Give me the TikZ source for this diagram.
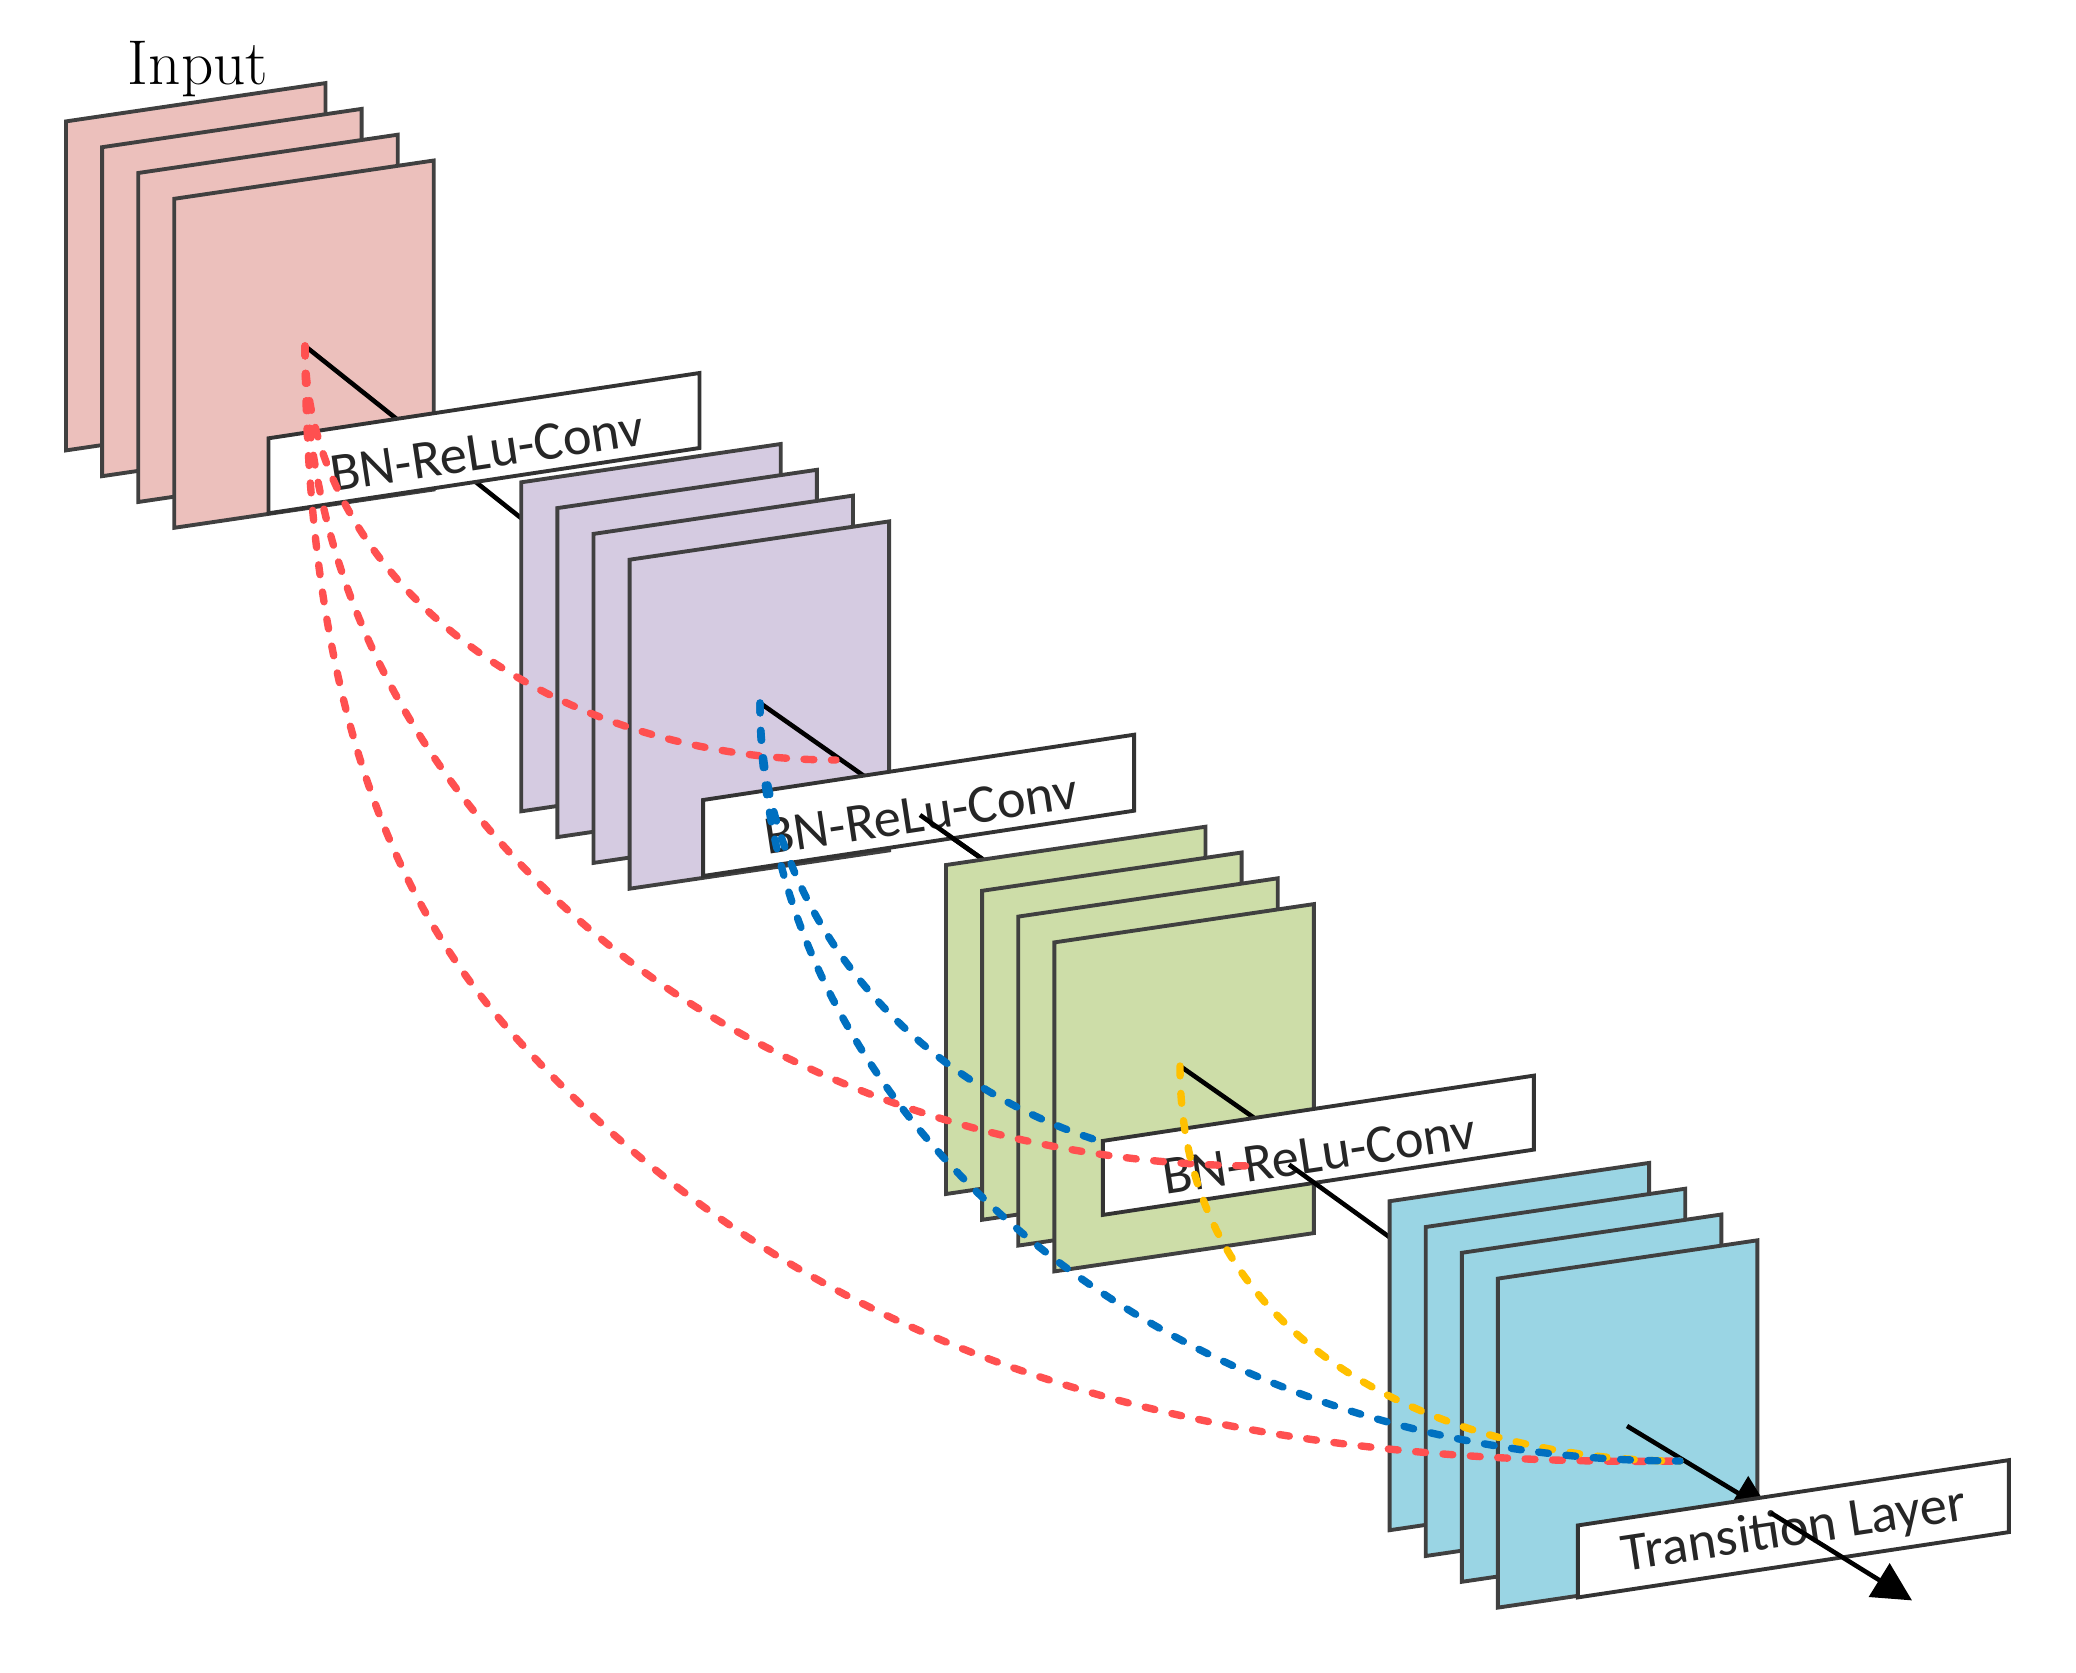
\documentclass[tikz,border=0pt]{standalone}
\usepackage{fontspec}
\usepackage{tikz}
\usetikzlibrary{arrows.meta}
\newfontfamily\boxfont{Carlito}
\definecolor{inputpink}{RGB}{236,192,188}
\definecolor{layerpurple}{RGB}{213,203,225}
\definecolor{layergreen}{RGB}{205,221,168}
\definecolor{layerblue}{RGB}{154,213,228}
\definecolor{skipred}{RGB}{255,80,80}
\definecolor{skipblue}{RGB}{0,112,192}
\definecolor{skipyellow}{RGB}{255,192,0}

\tikzset{
  sheet/.style={draw=black!75, line width=1.1pt},
  convbox/.style={draw=black!80, fill=white, line width=1.1pt},
  boxtext/.style={font=\boxfont\fontsize{15.5}{18}\selectfont, text=black!85, rotate=8.6, inner sep=0pt},
  link/.style={black, line width=1.3pt},
  skiplink/.style={line width=2.1pt, line cap=round, dash pattern=on 2.8pt off 5pt},
}

\begin{document}
\begin{tikzpicture}[x=0.01cm,y=-0.01cm]
\useasboundingbox (0,0) rectangle (2076,1673);

\coordinate (pinkC) at (305,346);
\coordinate (purpleC) at (760,703);
\coordinate (greenC) at (1180,1066);
\coordinate (blueC) at (1627,1426);
\coordinate (purpleIn) at (836,760);
\coordinate (greenIn) at (1263,1166);
\coordinate (blueIn) at (1680,1461);
\coordinate (redMid) at (518,1040);
\coordinate (purpleEdge) at (521,518);
\coordinate (greenEdge) at (983,859.5);
\coordinate (blueEdge) at (1390,1237.5);
\coordinate (line2Re) at (920,815);
\coordinate (b3cut) at (1265,1125.5);
\coordinate (line3Re) at (1289,1164.6);
\coordinate (transTip) at (1771,1513);
\coordinate (outTip) at (1912,1600.4);

\node[anchor=base,font=\fontsize{18}{21}\selectfont] (inputlabel) at (198,85) {Input};

% input maps
\foreach \i in {0,...,3}
  \draw[sheet,fill=inputpink] (66+36.1*\i,121.4+25.8*\i) -- ++(259.5,-38.3) -- ++(0,329) -- ++(-259.5,38.3) -- cycle;
\draw[link] (pinkC) -- (purpleEdge);
\draw[convbox] (268.5,438.3) -- ++(431,-65.3) -- ++(0,75) -- ++(-431,65.3) -- cycle;
\node[boxtext] (conv1) at (487,451) {BN-ReLu-Conv};

% first block
\foreach \i in {0,...,3}
  \draw[sheet,fill=layerpurple] (521.3+36.1*\i,482.3+25.8*\i) -- ++(259.5,-38.3) -- ++(0,329) -- ++(-259.5,38.3) -- cycle;
\draw[link] (purpleC) -- (greenEdge);
\draw[convbox] (703.1,800) -- ++(431,-65.3) -- ++(0,76) -- ++(-431,65.3) -- cycle;
\node[boxtext] (conv2) at (921,814) {BN-ReLu-Conv};
\draw[link] (line2Re) -- (greenEdge);

% second block
\foreach \i in {0,...,3}
  \draw[sheet,fill=layergreen] (946+36.1*\i,865+25.8*\i) -- ++(259.5,-38.3) -- ++(0,329) -- ++(-259.5,38.3) -- cycle;
\draw[skiplink,skipblue] (purpleC) .. controls +(0,256) and +(-278,0) .. (greenIn);
\draw[link] (greenC) -- (b3cut);
\draw[convbox] (1102.9,1140.9) -- ++(431,-65.3) -- ++(0,74) -- ++(-431,65.3) -- cycle;
\node[boxtext] (conv3) at (1319,1154) {BN-ReLu-Conv};
\draw[link] (line3Re) -- (blueEdge);

% third block
\foreach \i in {0,...,3}
  \draw[sheet,fill=layerblue] (1389.6+36.1*\i,1201.2+25.8*\i) -- ++(259.5,-38.3) -- ++(0,329) -- ++(-259.5,38.3) -- cycle;
\draw[link,-{Triangle[length=11pt,width=11pt]}] (blueC) -- (transTip);
\draw[convbox] (1577.9,1525.4) -- ++(431,-65.3) -- ++(0,72) -- ++(-431,65.3) -- cycle;
\node[boxtext] (trans) at (1794,1531) {Transition Layer};
\draw[link,-{Triangle[length=11pt,width=11pt]}] (transTip) -- (outTip);

% dense connections
\draw[skiplink,skipred] (pinkC) .. controls +(0,229) and +(-293,0) .. (purpleIn);
\draw[skiplink,skipred] (pinkC) .. controls +(0,453) and +(-529,0) .. (greenIn);
\draw[skiplink,skipred] (pinkC) .. controls +(2,400) and +(-101,-111) .. (redMid)
  .. controls +(256,281) and +(-550,8) .. (blueIn);
\draw[skiplink,skipyellow] (greenC) .. controls +(0,290) and +(-220,0) .. (blueIn);
\draw[skiplink,skipblue] (purpleC) .. controls +(0,419) and +(-508,0) .. (blueIn);
\end{tikzpicture}
\end{document}
